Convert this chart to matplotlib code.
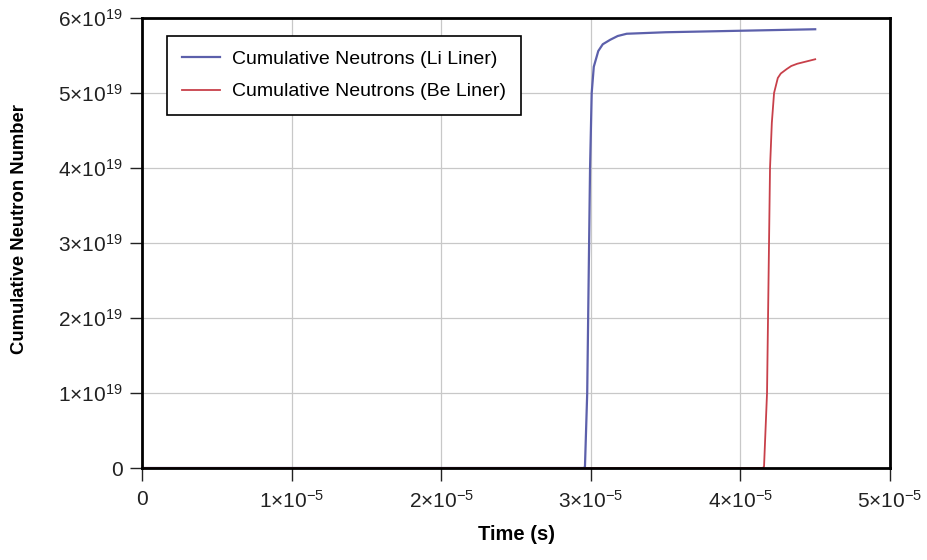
import numpy as np
import matplotlib
matplotlib.use("Agg")
import matplotlib.pyplot as plt

plt.rcParams['font.family'] = ['Liberation Sans', 'DejaVu Sans']
plt.rcParams['mathtext.fontset'] = 'custom'
plt.rcParams['mathtext.rm'] = 'Liberation Sans'
plt.rcParams['mathtext.it'] = 'Liberation Sans'

# time (s) and cumulative neutrons
li_t = [0.0, 2.955e-5, 2.961e-5, 2.976e-5, 2.995e-5, 3.006e-5, 3.02e-5, 3.05e-5,
        3.08e-5, 3.13e-5, 3.18e-5, 3.24e-5, 3.5e-5, 4.0e-5, 4.5e-5]
li_n = [0.0, 0.0, 0.02e19, 1.0e19, 4.0e19, 5.0e19, 5.35e19, 5.56e19,
        5.65e19, 5.71e19, 5.76e19, 5.79e19, 5.81e19, 5.83e19, 5.85e19]
be_t = [0.0, 4.15e-5, 4.158e-5, 4.178e-5, 4.198e-5, 4.21e-5, 4.225e-5, 4.25e-5,
        4.27e-5, 4.31e-5, 4.34e-5, 4.38e-5, 4.44e-5, 4.5e-5]
be_n = [0.0, 0.0, 0.02e19, 1.0e19, 4.0e19, 4.6e19, 5.0e19, 5.2e19,
        5.26e19, 5.32e19, 5.36e19, 5.39e19, 5.42e19, 5.45e19]

x_ticks = [0, 1e-5, 2e-5, 3e-5, 4e-5, 5e-5]
x_labels = ['0'] + [r'$%d{\times}10^{-5}$' % i for i in range(1, 6)]
y_ticks = [0, 1e19, 2e19, 3e19, 4e19, 5e19, 6e19]
y_labels = ['0'] + [r'$%d{\times}10^{19}$' % i for i in range(1, 7)]

fig = plt.figure(figsize=(9.27, 5.6), dpi=100)
ax = fig.add_axes([142 / 927, 92 / 560, 748 / 927, 450 / 560])

ax.plot(li_t, li_n, color='#5c60ab', lw=1.6, label='Cumulative Neutrons (Li Liner)')
ax.plot(be_t, be_n, color='#c8404a', lw=1.3, label='Cumulative Neutrons (Be Liner)')

ax.set_xlim(0, 5e-5)
ax.set_ylim(0, 6e19)
ax.set_xticks(x_ticks)
ax.set_xticklabels(x_labels)
ax.set_yticks(y_ticks)
ax.set_yticklabels(y_labels)
ax.tick_params(direction='out', length=9, width=1, labelsize=15, colors='#222222')
ax.tick_params(axis='x', pad=7)
ax.tick_params(axis='y', pad=5)
ax.grid(True, color='#c8c8c8', lw=0.9)
ax.set_axisbelow(True)
for s in ax.spines.values():
    s.set_linewidth(2)
    s.set_color('black')

ax.set_xlabel('Time (s)', fontsize=14.5, fontweight='bold', labelpad=9)
ax.set_ylabel('Cumulative Neutron Number', fontsize=13.3, fontweight='bold')
ax.yaxis.set_label_coords(-0.152, 0.53)

leg = ax.legend(loc='upper left', bbox_to_anchor=(0.0334, 0.96), borderaxespad=0,
                fontsize=14, frameon=True, fancybox=False, edgecolor='black',
                framealpha=1, handlelength=2.0, handletextpad=0.6,
                borderpad=0.75, labelspacing=0.75)
leg.get_frame().set_linewidth(1.2)

fig.savefig('out.png', dpi=100)
